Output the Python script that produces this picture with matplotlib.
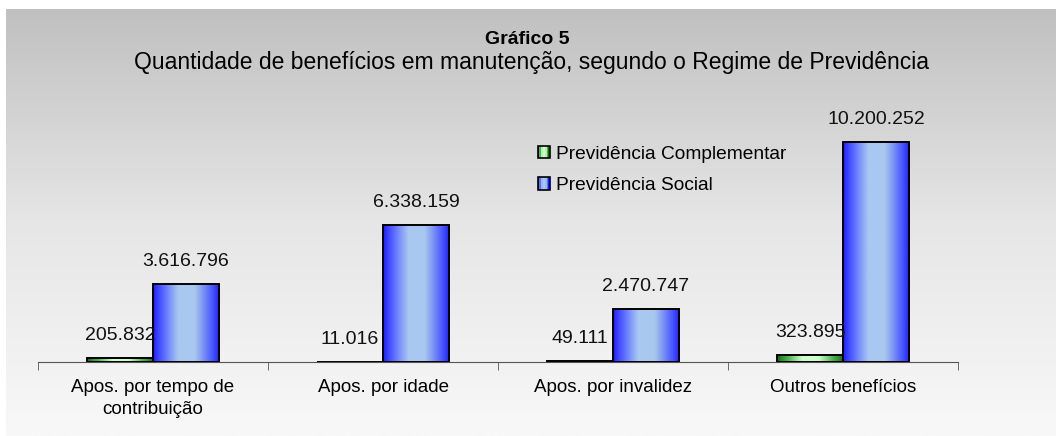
import numpy as np
import matplotlib
matplotlib.use("Agg")
import matplotlib.pyplot as plt
from matplotlib.colors import LinearSegmentedColormap
from matplotlib.patches import Patch, Rectangle
from matplotlib.legend_handler import HandlerBase

# data
categories = ["Apos. por tempo de\ncontribuição", "Apos. por idade",
              "Apos. por invalidez", "Outros benefícios"]
complementar = [205832, 11016, 49111, 323895]
social = [3616796, 6338159, 2470747, 10200252]
series_names = ["Previdência Complementar", "Previdência Social"]


def fmt(v):
    # brazilian thousands separator
    return f"{v:,}".replace(",", ".")


def bar_ramp(n):
    # dark at the edges, light in the middle
    r = (1 - np.abs(np.linspace(-1, 1, n))) ** 0.8
    return np.clip(r * 1.25, 0, 1)


class GradientHandler(HandlerBase):
    """Legend key drawn as a small square with the same stripe gradient as the bars."""

    def __init__(self, cmap):
        super().__init__()
        self.cmap = cmap

    def create_artists(self, legend, orig_handle, xdescent, ydescent,
                       width, height, fontsize, trans):
        n = 7
        x0, y0 = -xdescent, -ydescent
        artists = []
        for i, v in enumerate(bar_ramp(n)):
            artists.append(Rectangle((x0 + i * width / n, y0), width / n, height,
                                     facecolor=self.cmap(v), edgecolor="none",
                                     transform=trans))
        artists.append(Rectangle((x0, y0), width, height, facecolor="none",
                                 edgecolor="black", linewidth=1.2, transform=trans))
        return artists


plt.rcParams['font.family'] = ['Liberation Sans', 'DejaVu Sans']

W, H = 1056, 436
fig = plt.figure(figsize=(W / 100, H / 100), dpi=100)
fig.patch.set_facecolor("white")

# grey-to-white background behind the whole chart
bg = fig.add_axes([6 / W, 0, 1 - 6 / W, 1 - 9 / H], zorder=-1)
bg_cmap = LinearSegmentedColormap.from_list("bg", ["#c0c0c0", "#e6e6e6", "#f8f8f8"])
bg.imshow(np.linspace(0, 1, 256).reshape(-1, 1), aspect="auto", cmap=bg_cmap,
          extent=[0, 1, 0, 1], origin="upper")
bg.axis("off")

# plot area in pixel terms
ax_left, ax_right, ax_bottom, ax_top = 38, 958, 362, 100
ax = fig.add_axes([ax_left / W, 1 - ax_bottom / H, (ax_right - ax_left) / W,
                   (ax_bottom - ax_top) / H])
ax.patch.set_alpha(0)

x = np.arange(len(categories))
width = 0.287

green_bars = ax.bar(x - width / 2, complementar, width, facecolor="none",
                    edgecolor="black", linewidth=1.4, zorder=3)
blue_bars = ax.bar(x + width / 2, social, width, facecolor="none",
                   edgecolor="black", linewidth=1.4, zorder=3)

green_cmap = LinearSegmentedColormap.from_list("g", ["#0b6b0b", "#4caf4c", "#ccffcc"])
blue_cmap = LinearSegmentedColormap.from_list("b", ["#1a1aff", "#5a6cff", "#a8c8f0"])
ramp = bar_ramp(64).reshape(1, -1)

for bars, cmap in [(green_bars, green_cmap), (blue_bars, blue_cmap)]:
    for b in bars:
        x0, y0 = b.get_x(), b.get_y()
        img = ax.imshow(ramp, aspect="auto", cmap=cmap, vmin=0, vmax=1,
                        extent=[x0, x0 + b.get_width(), y0, y0 + b.get_height()],
                        zorder=2, interpolation="bilinear")
        img.set_clip_path(b)

for bars, vals in [(green_bars, complementar), (blue_bars, social)]:
    for b, v in zip(bars, vals):
        ax.annotate(fmt(v), (b.get_x() + b.get_width() / 2, b.get_height()),
                    xytext=(0, 10), textcoords="offset points",
                    ha="center", va="bottom", fontsize=14, color="#111111")

ax.set_xlim(-0.5, len(categories) - 0.5)
ax.set_ylim(0, 10200252 * (ax_bottom - ax_top) / 220)

for side in ["top", "right", "left"]:
    ax.spines[side].set_visible(False)
ax.spines["bottom"].set_color("#555555")
ax.set_yticks([])
ax.set_xticks(x)
ax.set_xticklabels(categories, fontsize=13.5, linespacing=1.4)
ax.tick_params(axis="x", which="major", length=0, pad=12)
ax.set_xticks(np.arange(-0.5, len(categories)), minor=True)
ax.tick_params(axis="x", which="minor", length=6, color="#555555", direction="out")

handles = [Patch(), Patch()]
fig.legend(handles, series_names, loc="upper left",
           bbox_to_anchor=(530 / W, 1 - 138 / H), frameon=False, fontsize=13.8,
           handlelength=0.65, handleheight=0.65, handletextpad=0.3,
           labelspacing=0.75, borderaxespad=0,
           handler_map={handles[0]: GradientHandler(green_cmap),
                        handles[1]: GradientHandler(blue_cmap)})

fig.text(527 / W, 1 - 39 / H, "Gráfico 5", ha="center", va="center",
         fontsize=14, fontweight="bold")
fig.text(531 / W, 1 - 63 / H,
         "Quantidade de benefícios em manutenção, segundo o Regime de Previdência",
         ha="center", va="center", fontsize=16.5)

fig.savefig("out.png", dpi=100)
